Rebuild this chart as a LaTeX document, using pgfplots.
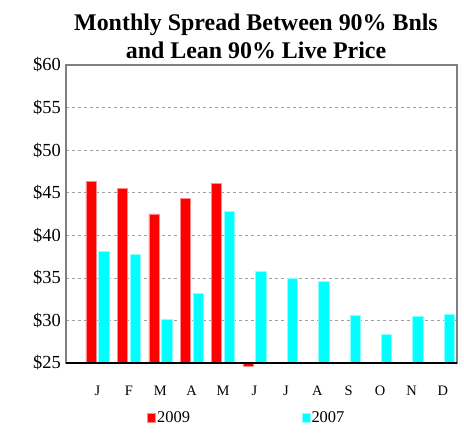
\documentclass[border=0pt]{standalone}
\usepackage{fontspec}
\setmainfont{Liberation Serif}
\usepackage{pgfplots}
\pgfplotsset{compat=1.18}
\definecolor{BarRed}{RGB}{255,0,0}
\definecolor{BarCyan}{RGB}{0,255,255}
\definecolor{FrameGray}{RGB}{128,128,128}

\begin{document}
\begin{tikzpicture}
\useasboundingbox (0,0) rectangle (464bp,433bp);

% title
\node[font=\fontsize{24}{28}\selectfont\bfseries, anchor=base] at (256bp,402bp) {Monthly Spread Between 90\% Bnls};
\node[font=\fontsize{24}{28}\selectfont\bfseries, anchor=base] at (256bp,374bp) {and Lean 90\% Live Price};

\begin{axis}[
    at={(66bp,70bp)}, anchor=south west,
    scale only axis,
    width=391bp, height=298bp,
    xmin=0, xmax=12.45,
    ymin=0, ymax=35,
    % values are in dollars, the axis starts at $25
    y filter/.expression={y-25},
    ytick={0,5,...,35},
    yticklabels={\$25,\$30,\$35,\$40,\$45,\$50,\$55,\$60},
    xtick={1,...,12},
    xticklabels={J,F,M,A,M,J,J,A,S,O,N,D},
    major tick length=0pt,
    ymajorgrids,
    grid style={dashed, gray!75, line width=0.6bp},
    axis line style={draw=FrameGray, line width=1.6bp},
    yticklabel style={font=\fontsize{18.5}{20}\selectfont, anchor=east, inner sep=0pt, xshift=-5bp},
    xticklabel style={font=\fontsize{14.5}{16}\selectfont, anchor=north, inner sep=0pt, yshift=-23bp},
    clip=false,
    legend columns=2,
    legend style={at={(0.207,-0.183)}, anchor=west, draw=none, fill=none,
        font=\fontsize{16.5}{18}\selectfont, inner sep=0pt,
        nodes={inner sep=1.5bp},
        /tikz/every even column/.append style={column sep=110bp}},
    legend image code/.code={\fill[#1] (0bp,-4.3bp) rectangle (8bp,4.3bp);},
]

\addplot[ybar, bar width=0.32, bar shift=-0.205, fill=BarRed, draw=BarRed!45!white, line width=0.5bp]
coordinates {
 (1,46.3) (2,45.5) (3,42.5) (4,44.3) (5,46.1) (6,24.6)
};
\addlegendentry{2009}

\addplot[ybar, bar width=0.33, bar shift=0.205, fill=BarCyan, draw=BarCyan!45!white, line width=0.5bp]
coordinates {
 (1,38.1) (2,37.8) (3,30.1) (4,33.2) (5,42.8) (6,35.8)
 (7,35.0) (8,34.6) (9,30.6) (10,28.4) (11,30.5) (12,30.7)
};
\addlegendentry{2007}

% dark category axis
\draw[black, line width=1.6bp] (rel axis cs:0,0) -- (rel axis cs:1,0);
\end{axis}
\end{tikzpicture}
\end{document}
